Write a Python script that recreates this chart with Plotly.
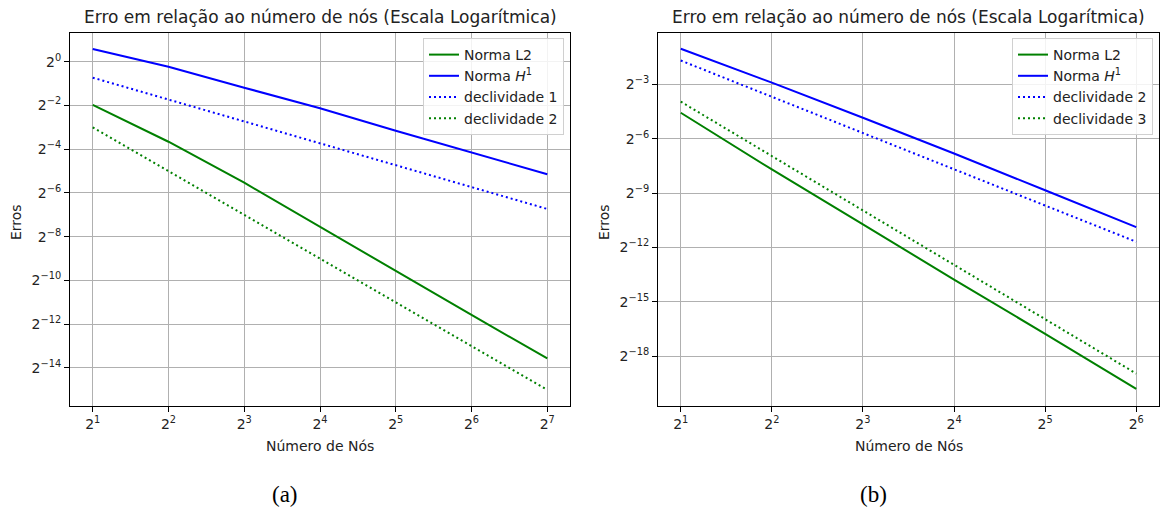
import math
import plotly.graph_objects as go

# Número de nós used in each study
nos_a = [2, 4, 8, 16, 32, 64, 128]
nos_b = [2, 4, 8, 16, 32, 64]

# (a) errors and reference slopes
erro_l2_a = [0.255, 0.0791, 0.0216, 0.00533, 0.00129, 0.000327, 0.0000825]
erro_h1_a = [1.495, 0.853, 0.438, 0.228, 0.112, 0.0559, 0.0282]
decl1_a = [0.602, 0.301, 0.150, 0.0752, 0.0376, 0.0188, 0.0094]
decl2_a = [0.125, 0.03125, 0.0078125, 0.001953, 0.000488, 0.000122, 0.0000305]

# (b) errors and reference slopes
erro_l2_b = [0.0421, 0.00481, 0.000590, 0.0000712, 0.00000895, 0.00000109]
erro_h1_b = [0.486, 0.133, 0.0347, 0.00886, 0.00217, 0.000531]
decl2_b = [0.310, 0.0775, 0.0194, 0.00484, 0.00121, 0.000303]
decl3_b = [0.0643, 0.00804, 0.001005, 0.0001256, 0.0000157, 0.00000196]

# Axis tick exponents
xticks_a = [1, 2, 3, 4, 5, 6, 7]
xticks_b = [1, 2, 3, 4, 5, 6]
yticks_a = [0, -2, -4, -6, -8, -10, -12, -14]
yticks_b = [-3, -6, -9, -12, -15, -18]

titulo = "Erro em relação ao número de nós (Escala Logarítmica)"

W, H = 1163, 511
GREEN = "#008000"
BLUE = "#0000ff"
DOT = "2px,3px"
FONT = "DejaVu Sans"
TXT = "#222"


def pow2_label(e):
    s = str(e).replace("-", "\u2212")
    return f"2<sup>{s}</sup>"


def log2range(a, b):
    return [a * math.log10(2), b * math.log10(2)]


fig = go.Figure()

series = [
    ("x", "y", "legend", nos_a, erro_l2_a, "Norma L2", GREEN, "solid"),
    ("x", "y", "legend", nos_a, erro_h1_a, "Norma <i>H</i><sup>1</sup>", BLUE, "solid"),
    ("x", "y", "legend", nos_a, decl1_a, "declividade 1", BLUE, DOT),
    ("x", "y", "legend", nos_a, decl2_a, "declividade 2", GREEN, DOT),
    ("x2", "y2", "legend2", nos_b, erro_l2_b, "Norma L2", GREEN, "solid"),
    ("x2", "y2", "legend2", nos_b, erro_h1_b, "Norma <i>H</i><sup>1</sup>", BLUE, "solid"),
    ("x2", "y2", "legend2", nos_b, decl2_b, "declividade 2", BLUE, DOT),
    ("x2", "y2", "legend2", nos_b, decl3_b, "declividade 3", GREEN, DOT),
]
for xa, ya, lg, xs, ys, name, color, dash in series:
    fig.add_trace(go.Scatter(
        x=xs, y=ys, name=name, mode="lines",
        line=dict(color=color, width=2, dash=dash),
        xaxis=xa, yaxis=ya, legend=lg,
    ))

# Plot boxes in pixel coordinates
box_a = (70, 570)
box_b = (658, 1159)
top, bottom = 33, 406

axis_common = dict(
    type="log", showline=True, mirror=True, linecolor="black", linewidth=1,
    showgrid=True, gridcolor="#b0b0b0", gridwidth=1,
    ticks="outside", ticklen=5, tickcolor="black", tickwidth=1,
    tickfont=dict(family=FONT, size=14, color=TXT),
    zeroline=False,
)

ydom = [1 - bottom / H, 1 - top / H]

legend_common = dict(
    xanchor="right", yanchor="top", y=1 - 38 / H,
    bgcolor="rgba(255,255,255,0.85)", bordercolor="#d0d0d0", borderwidth=1,
    font=dict(family=FONT, size=14, color=TXT), tracegroupgap=0,
    itemwidth=30,
)

fig.update_layout(
    width=W, height=H,
    margin=dict(l=0, r=0, t=0, b=0),
    paper_bgcolor="white", plot_bgcolor="white",
    font=dict(family=FONT, color=TXT),
    xaxis=dict(axis_common, domain=[box_a[0] / W, box_a[1] / W],
               range=log2range(0.7, 7.3),
               tickvals=[2 ** e for e in xticks_a],
               ticktext=[pow2_label(e) for e in xticks_a], anchor="y"),
    yaxis=dict(axis_common, domain=ydom,
               range=log2range(-15.74, 1.31),
               tickvals=[2 ** e for e in yticks_a],
               ticktext=[pow2_label(e) for e in yticks_a], anchor="x"),
    xaxis2=dict(axis_common, domain=[box_b[0] / W, box_b[1] / W],
                range=log2range(0.75, 6.25),
                tickvals=[2 ** e for e in xticks_b],
                ticktext=[pow2_label(e) for e in xticks_b], anchor="y2"),
    yaxis2=dict(axis_common, domain=ydom,
                range=log2range(-20.75, -0.17),
                tickvals=[2 ** e for e in yticks_b],
                ticktext=[pow2_label(e) for e in yticks_b], anchor="x2"),
    legend=dict(legend_common, x=564 / W),
    legend2=dict(legend_common, x=1153 / W),
    showlegend=True,
)

annotations = []
for (x0, x1), cap in [(box_a, "(a)"), (box_b, "(b)")]:
    cx = (x0 + x1) / 2
    annotations.append(dict(
        x=cx / W, y=1 - 17 / H, xref="paper", yref="paper",
        text=titulo, showarrow=False, xanchor="center", yanchor="middle",
        font=dict(family=FONT, size=17, color=TXT),
    ))
    annotations.append(dict(
        x=cx / W, y=1 - 446 / H, xref="paper", yref="paper",
        text="Número de Nós", showarrow=False, xanchor="center", yanchor="middle",
        font=dict(family=FONT, size=14, color=TXT),
    ))
    annotations.append(dict(
        x=(x0 - 54) / W, y=1 - 222 / H, xref="paper", yref="paper",
        text="Erros", showarrow=False, textangle=-90,
        xanchor="center", yanchor="middle",
        font=dict(family=FONT, size=14, color=TXT),
    ))
    annotations.append(dict(
        x=(cx - 35) / W, y=1 - 494 / H, xref="paper", yref="paper",
        text=cap, showarrow=False, xanchor="center", yanchor="middle",
        font=dict(family="Liberation Serif", size=23, color="black"),
    ))
fig.update_layout(annotations=annotations)

fig.write_html("out.html")
